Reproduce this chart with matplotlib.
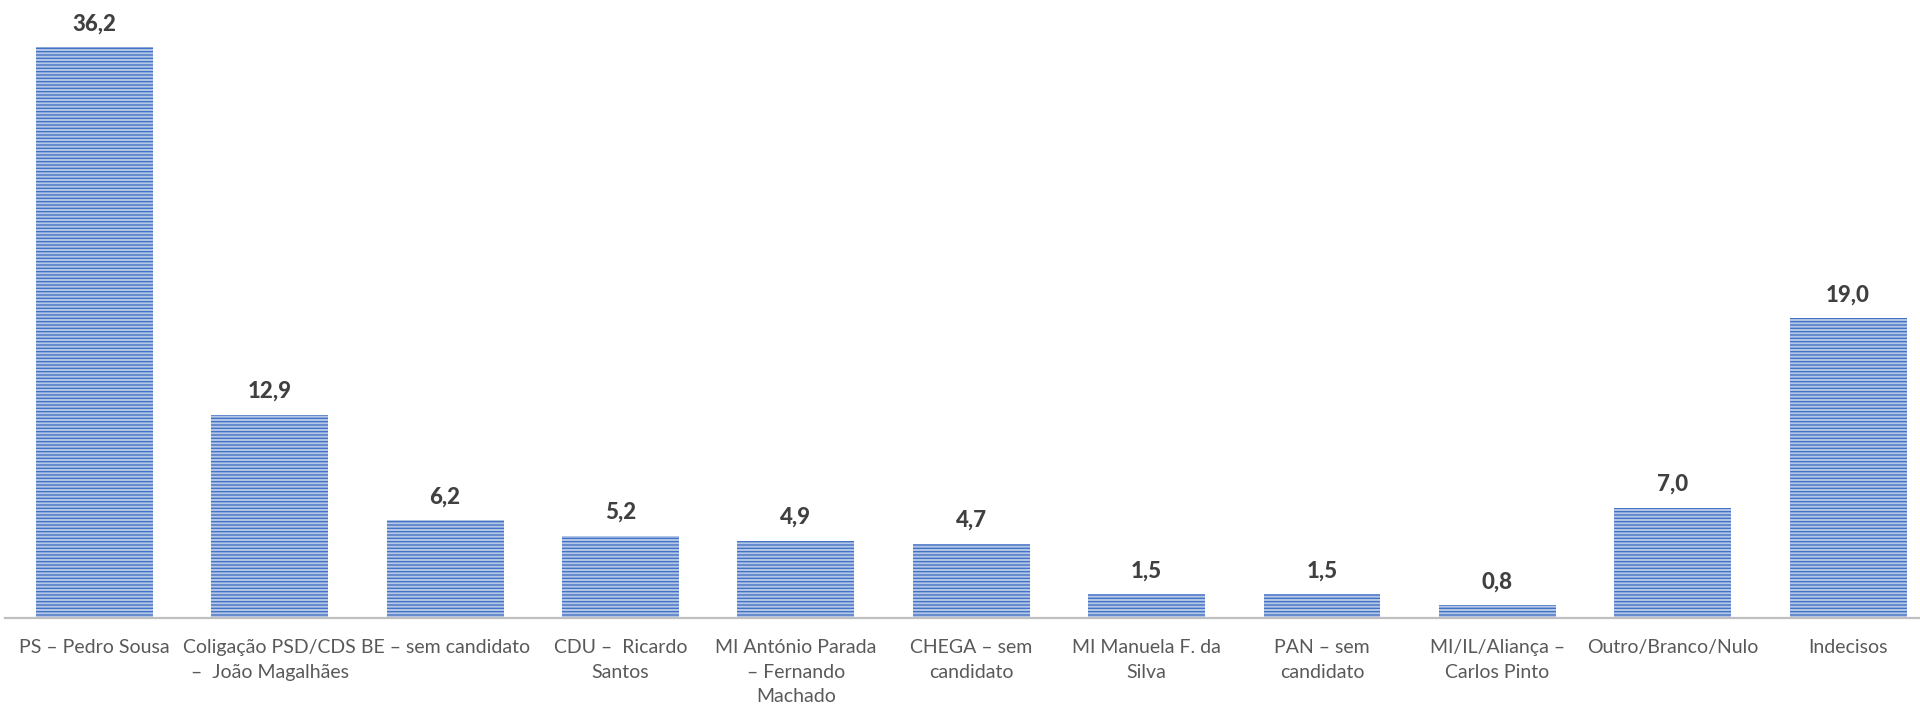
import matplotlib.pyplot as plt

# sondagem - intenção de voto (%)
categories = [
    "PS – Pedro Sousa",
    "Coligação PSD/CDS\n–  João Magalhães",
    "BE – sem candidato",
    "CDU –  Ricardo\nSantos",
    "MI António Parada\n– Fernando\nMachado",
    "CHEGA – sem\ncandidato",
    "MI Manuela F. da\nSilva",
    "PAN – sem\ncandidato",
    "MI/IL/Aliança –\nCarlos Pinto",
    "Outro/Branco/Nulo",
    "Indecisos",
]
values = [36.2, 12.9, 6.2, 5.2, 4.9, 4.7, 1.5, 1.5, 0.8, 7.0, 19.0]

plt.rcParams['font.family'] = ['Lato', 'DejaVu Sans']
plt.rcParams['hatch.linewidth'] = 1.0

fig = plt.figure(figsize=(19.2, 7.1), dpi=100)
ax = fig.add_axes([5 / 1920, 92 / 710, 1 - 5 / 1920, 618 / 710])

x = list(range(len(categories)))
bars = ax.bar(x, values, width=0.667, color='#b4c7e7', edgecolor='#4472c4',
              linewidth=0, hatch='-----')

for b, v in zip(bars, values):
    ax.annotate(f"{v:.1f}".replace('.', ','),
                (b.get_x() + b.get_width() / 2, b.get_height()),
                xytext=(0, 17), textcoords='offset points',
                ha='center', va='center', fontsize=16, fontweight='black',
                color='#404040')

ax.set_xlim(-0.51, 10.41)
ax.set_ylim(0, 39.2)
ax.set_xticks(x)
ax.set_xticklabels(categories, fontsize=14, color='#595959', linespacing=1.55,
                   va='top')
ax.tick_params(axis='x', length=0, pad=15)
ax.set_yticks([])
for side in ['top', 'right', 'left']:
    ax.spines[side].set_visible(False)
ax.spines['bottom'].set_color('#bfbfbf')
ax.spines['bottom'].set_linewidth(1.6)

plt.savefig('out.png', dpi=100)
